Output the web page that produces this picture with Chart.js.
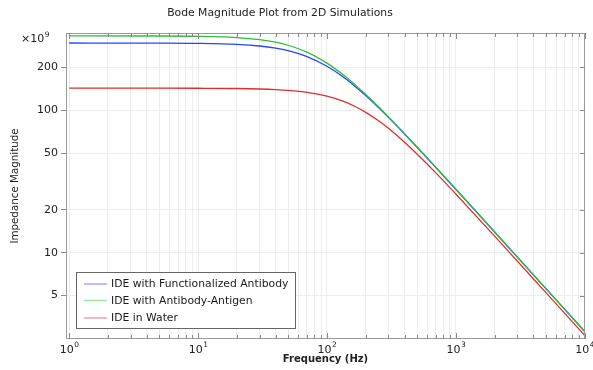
<!DOCTYPE html>
<html>
<head>
<meta charset="utf-8">
<script src="https://cdn.jsdelivr.net/npm/chart.js@4.4.0/dist/chart.umd.min.js"></script>
<style>
  html, body { margin: 0; padding: 0; background: #fff; }
  #wrap { width: 593px; height: 370px; position: relative; }
</style>
</head>
<body>
<div id="wrap"><canvas id="bodeChart"></canvas></div>
<script>
// values (units of 1e9)
const freqHz = [1, 5, 10, 20, 30, 40, 50, 70, 100, 130, 170, 200, 250, 300, 400, 500, 700, 1000, 2000, 5000, 10000];
const zAntibody = [296, 295.6, 294.4, 289.6, 282.1, 272.6, 261.7, 237.9, 203.4, 174.2, 143.9, 126.6, 104.7, 89, 68.1, 55, 39.6, 27.9, 13.98, 5.6, 2.8];
const zAntigen  = [332, 331.5, 329.7, 323, 312.8, 300, 285.5, 255.4, 214, 180.6, 147.5, 129, 106, 89.8, 68.5, 55.2, 39.7, 27.9, 13.98, 5.6, 2.8];
const zWater    = [142.7, 142.7, 142.5, 141.9, 140.8, 139.4, 137.7, 133.4, 125.4, 116.5, 104.8, 96.6, 84.6, 74.6, 59.6, 49.3, 36.3, 25.8, 13.08, 5.25, 2.63];

const seriesNames = ['IDE with Functionalized Antibody', 'IDE with Antibody-Antigen', 'IDE in Water'];
const seriesColors = ['rgb(35,70,255)', 'rgb(45,190,55)', 'rgb(225,45,45)'];
const legendColors = ['rgba(35,70,255,0.45)', 'rgba(45,190,55,0.45)', 'rgba(225,45,45,0.45)'];

const xMajorTicks = [1, 10, 100, 1000, 10000];
const yTickValues = [5, 10, 20, 50, 100, 200];

const FONT = 'DejaVu Sans';

// minor positions 2..9 in each decade
const xAllTicks = [];
xMajorTicks.forEach(function (d, i) {
    xAllTicks.push(d);
    if (i < xMajorTicks.length - 1) {
        for (let m = 2; m <= 9; m++) xAllTicks.push(d * m);
    }
});

function toPoints(ys) {
    return freqHz.map((f, i) => ({ x: f, y: ys[i] }));
}

const decorPlugin = {
    id: 'decor',
    afterDraw(chart) {
        const ctx = chart.ctx;
        const a = chart.chartArea;
        const xs = chart.scales.x;
        const ys = chart.scales.y;
        ctx.save();

        // frame
        ctx.strokeStyle = '#9a9a9a';
        ctx.lineWidth = 1;
        ctx.strokeRect(a.left + 0.5, a.top + 0.5, a.right - a.left - 1, a.bottom - a.top - 1);

        // inward x ticks top and bottom
        ctx.strokeStyle = '#8a8a8a';
        ctx.beginPath();
        xAllTicks.forEach(function (v) {
            const px = Math.round(xs.getPixelForValue(v)) + 0.5;
            const len = xMajorTicks.includes(v) ? 6 : 4;
            ctx.moveTo(px, a.bottom);
            ctx.lineTo(px, a.bottom - len);
            ctx.moveTo(px, a.top);
            ctx.lineTo(px, a.top + len);
        });
        // inward y ticks on the right
        yTickValues.forEach(function (v) {
            const py = Math.round(ys.getPixelForValue(v)) + 0.5;
            ctx.moveTo(a.right, py);
            ctx.lineTo(a.right - 5, py);
        });
        ctx.stroke();

        // x tick labels 10^n
        ctx.fillStyle = '#222';
        ctx.textBaseline = 'alphabetic';
        ctx.textAlign = 'left';
        xMajorTicks.forEach(function (v) {
            const px = xs.getPixelForValue(v);
            const ex = String(Math.round(Math.log10(v)));
            ctx.font = '11px "' + FONT + '"';
            const w1 = ctx.measureText('10').width;
            ctx.font = '7.5px "' + FONT + '"';
            const w2 = ctx.measureText(ex).width;
            const x0 = px - (w1 + w2) / 2;
            ctx.font = '11px "' + FONT + '"';
            ctx.fillText('10', x0, 353);
            ctx.font = '7.5px "' + FONT + '"';
            ctx.fillText(ex, x0 + w1 + 0.5, 347);
        });

        // multiplier label
        ctx.font = '11px "' + FONT + '"';
        ctx.fillText('\u00d710', 21, 42);
        const wm = ctx.measureText('\u00d710').width;
        ctx.font = '7.5px "' + FONT + '"';
        ctx.fillText('9', 21 + wm + 0.5, 37);

        // axis titles
        ctx.fillStyle = '#222';
        ctx.textAlign = 'center';
        ctx.font = 'bold 10px "' + FONT + '"';
        ctx.fillText('Frequency (Hz)', (a.left + a.right) / 2, 362);
        ctx.save();
        ctx.translate(18, (a.top + a.bottom) / 2);
        ctx.rotate(-Math.PI / 2);
        ctx.font = '10.3px "' + FONT + '"';
        ctx.fillText('Impedance Magnitude', 0, 0);
        ctx.restore();

        // main title
        ctx.font = '10.8px "' + FONT + '"';
        ctx.fillText('Bode Magnitude Plot from 2D Simulations', 280, 16);

        // legend box
        const bx = 76.5, by = 272.5, bw = 219, bh = 56;
        ctx.fillStyle = '#fff';
        ctx.fillRect(bx, by, bw, bh);
        ctx.strokeStyle = '#666';
        ctx.strokeRect(bx, by, bw, bh);
        const rows = [284, 300.5, 318];
        ctx.textAlign = 'left';
        ctx.textBaseline = 'middle';
        ctx.font = '10.8px "' + FONT + '"';
        chart.data.datasets.forEach(function (ds, i) {
            ctx.strokeStyle = legendColors[i];
            ctx.lineWidth = 1.5;
            ctx.beginPath();
            ctx.moveTo(84, rows[i]);
            ctx.lineTo(107, rows[i]);
            ctx.stroke();
            ctx.fillStyle = '#1a1a1a';
            ctx.fillText(ds.label, 111, rows[i] + 0.5);
        });
        ctx.restore();
    }
};

const ctxBode = document.getElementById('bodeChart').getContext('2d');

const bodeChart = new Chart(ctxBode, {
    type: 'line',
    data: {
        datasets: [
            { label: seriesNames[0], data: toPoints(zAntibody), borderColor: seriesColors[0], order: 3 },
            { label: seriesNames[1], data: toPoints(zAntigen), borderColor: seriesColors[1], order: 2 },
            { label: seriesNames[2], data: toPoints(zWater), borderColor: seriesColors[2], order: 1 }
        ]
    },
    options: {
        responsive: true,
        maintainAspectRatio: false,
        animation: false,
        layout: { padding: { top: 33, right: 8, left: 0, bottom: 0 } },
        elements: {
            point: { radius: 0 },
            line: { borderWidth: 1.3, cubicInterpolationMode: 'monotone', fill: false }
        },
        plugins: {
            legend: { display: false },
            title: { display: false },
            tooltip: { enabled: false }
        },
        scales: {
            x: {
                type: 'logarithmic',
                min: 0.945,
                max: 10050,
                afterBuildTicks: function (s) { s.ticks = xAllTicks.map(v => ({ value: v })); },
                afterFit: function (s) { s.height = 31; },
                ticks: { autoSkip: false, callback: () => '' },
                grid: { color: '#ececec', drawTicks: false },
                border: { display: false }
            },
            y: {
                type: 'logarithmic',
                min: 2.48,
                max: 348,
                afterBuildTicks: function (s) { s.ticks = yTickValues.map(v => ({ value: v })); },
                afterFit: function (s) { s.width = 66; },
                ticks: {
                    autoSkip: false,
                    color: '#222',
                    padding: 3,
                    font: { family: FONT, size: 11 },
                    callback: (v) => String(v)
                },
                grid: { color: '#ececec', tickColor: '#8a8a8a', tickLength: 5, drawTicks: true },
                border: { display: false }
            }
        }
    },
    plugins: [decorPlugin]
});
</script>
</body>
</html>
